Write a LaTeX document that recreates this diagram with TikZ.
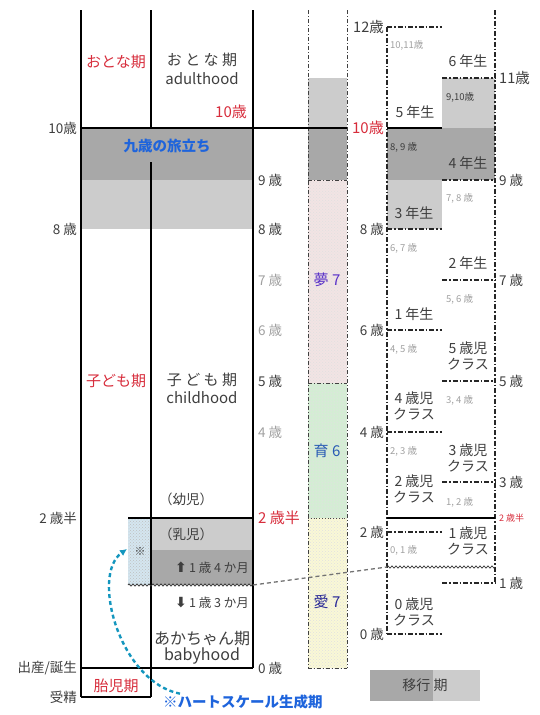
\documentclass[tikz,border=0pt]{standalone}
\usepackage{fontspec}
\setmainfont{Noto Sans CJK JP}
\newfontfamily\dejavu{DejaVu Sans}
\usetikzlibrary{arrows.meta,decorations.pathmorphing,patterns}
\definecolor{jred}{RGB}{215,45,60}
\definecolor{jblue}{RGB}{30,100,220}
\definecolor{jcyan}{RGB}{20,150,190}
\definecolor{dgray}{RGB}{168,168,168}
\definecolor{lgray}{RGB}{204,204,204}
\definecolor{txt}{RGB}{62,62,62}
\definecolor{ltxt}{RGB}{160,160,160}
\definecolor{pinkf}{RGB}{242,228,228}
\definecolor{greenf}{RGB}{212,238,212}
\definecolor{yellowf}{RGB}{250,248,214}
\definecolor{bluef}{RGB}{212,230,240}
\definecolor{yume}{RGB}{90,50,200}
\definecolor{iku}{RGB}{40,90,180}
\definecolor{aicol}{RGB}{40,40,150}
\tikzset{
  thk/.style={line width=2.6pt,black},
  ddash/.style={line width=1.1pt,black!85,dash pattern=on 5pt off 2pt on 1.5pt off 2pt},
  vdash/.style={line width=0.8pt,black!75,dash pattern=on 4pt off 2pt on 1pt off 2pt},
  wav/.style={line width=0.7pt,black!80,decorate,decoration={zigzag,segment length=4pt,amplitude=1.1pt}},
  t/.style={inner sep=0pt,text=txt,font=\fontsize{13.5}{15}\selectfont},
  tl/.style={t,text=ltxt},
  sm/.style={inner sep=0pt,text=txt,font=\fontsize{9.5}{10}\selectfont},
  sml/.style={sm,text=ltxt},
  big/.style={inner sep=0pt,text=txt,font=\fontsize{15}{17}\selectfont,align=center},
  redl/.style={inner sep=0pt,text=jred,font=\fontsize{15}{17}\selectfont},
  cls/.style={inner sep=0pt,text=txt,font=\fontsize{14}{16.5}\selectfont,align=center},
}
\begin{document}
\begin{tikzpicture}[x=1pt,y=-1pt]
\useasboundingbox (0,0) rectangle (539,715);
% ---------- fills ----------
\fill[dgray] (81,128) rectangle (253,180);
\fill[lgray] (81,180) rectangle (253,229);
\fill[lgray] (308,78) rectangle (347,128);
\fill[dgray] (308,128) rectangle (347,180);
\fill[pinkf] (308,180) rectangle (347,383);
\fill[greenf] (308,383) rectangle (347,518);
\fill[yellowf] (308,518) rectangle (347,668);
\fill[pattern=crosshatch dots,pattern color=black!12] (308,180) rectangle (347,668);
\fill[lgray] (442,78) rectangle (495,128);
\fill[dgray] (387,128) rectangle (495,180);
\fill[lgray] (387,180) rectangle (442,229);
\fill[lgray] (151,518) rectangle (253,550);
\fill[dgray] (151,550) rectangle (253,585);
\fill[bluef] (128,518) rectangle (151,585);
\fill[pattern=crosshatch dots,pattern color=black!25] (128,518) rectangle (151,585);
% ---------- middle column borders ----------
\draw[vdash] (308,10) -- (308,668);
\draw[vdash] (347,10) -- (347,668);
\draw[vdash] (308,180) -- (347,180);
\draw[vdash] (308,383) -- (347,383);
\draw[line width=0.8pt,black!70,dotted] (308,518) -- (347,518);
\draw[vdash] (308,668) -- (347,668);
% ---------- right column ----------
\draw[ddash] (387,27) -- (387,634);
\draw[ddash] (495,10) -- (495,583);
\foreach \yy in {27,229,330,432,532,634} \draw[ddash] (387,\yy) -- (442,\yy);
\foreach \yy in {78,180,280,381,482,583} \draw[ddash] (442,\yy) -- (495,\yy);
\draw[thk] (387,128) -- (442,128);
\draw[thk] (387,518) -- (495,518);
\coordinate (wR1) at (387,567);
\coordinate (wR2) at (495,567);
\draw[wav] (wR1) -- (wR2);
% ---------- main frame ----------
\draw[thk] (81,10) -- (81,697);
\draw[thk] (151,10) -- (151,128);
\draw[thk] (151,162) -- (151,697);
\draw[thk] (253,10) -- (253,668);
\draw[thk] (81,128) -- (347,128);
\draw[thk] (128,518) -- (253,518);
\draw[thk] (81,668) -- (253,668);
\draw[thk] (81,697) -- (151,697);
\coordinate (wL1) at (128,585);
\coordinate (wL2) at (253,585);
\draw[wav] (wL1) -- (wL2);
\draw[line width=1.3pt,black!55,dash pattern=on 4pt off 3pt] (wL2) -- (wR1);
% ---------- left labels ----------
\node[t,anchor=east] (l10) at (77,128) {10歳};
\node[t,anchor=east] (l8) at (77,229) {8 歳};
\node[t,anchor=east] (l25) at (77,518) {2 歳半};
\node[t,anchor=east] (lbirth) at (77,668) {出産/誕生};
\node[t,anchor=east] (lconc) at (77,697) {受精};
\node[redl] (otonaR) at (116,62) {おとな期};
\node[redl] (kodomoR) at (116,381) {子ども期};
\node[redl] (taiji) at (116,686) {胎児期};
\node[big] (otona) at (202,60) {お と な 期};
\node[big] (adult) at (202,79) {adulthood};
\node[redl] (r10) at (231,112) {10歳};
\node[inner sep=0pt,text=jblue,font=\bfseries\fontsize{14.5}{16}\selectfont] (kyusai) at (167,146) {九歳の旅立ち};
\node[big] (kodomo) at (202,380) {子 ど も 期};
\node[big] (child) at (202,398) {childhood};
\node[t] (youji) at (186,499) {（幼児）};
\node[t] (nyuji) at (186,534) {（乳児）};
\node[t,anchor=east,font=\fontsize{12.5}{14}\selectfont] (m14) at (249,568) {{\dejavu\bfseries\fontsize{14}{14}\selectfont ⬆}\,1 歳 4 か月};
\node[t,anchor=east,font=\fontsize{12.5}{14}\selectfont] (m13) at (249,603) {{\dejavu\bfseries\fontsize{14}{14}\selectfont ⬇}\,1 歳 3 か月};
\node[big,font=\fontsize{16}{18}\selectfont] (aka) at (202,639) {あかちゃん期};
\node[big,font=\fontsize{16}{18}\selectfont] (baby) at (202,656) {babyhood};
\node[inner sep=0pt,text=txt,font=\fontsize{11}{12}\selectfont] (kome) at (140,551) {※};
\node[inner sep=0pt,text=jblue,font=\bfseries\fontsize{14.5}{16}\selectfont,anchor=west] (hs) at (163,702) {※ハートスケール生成期};
\coordinate (hsend) at (127,549);
\draw[jcyan,line width=2.4pt,dash pattern=on 4pt off 3pt,-{Latex[length=7pt,width=7pt]}] ([xshift=17pt,yshift=1pt]hs.north west) .. controls (120,682) and (90,575) .. (hsend);
% ---------- middle axis ----------
\node[t,anchor=west] (a9) at (258,180) {9 歳};
\node[t,anchor=west] (a8) at (258,229) {8 歳};
\node[tl,anchor=west] (a7) at (258,280) {7 歳};
\node[tl,anchor=west] (a6) at (258,330) {6 歳};
\node[t,anchor=west] (a5) at (258,381) {5 歳};
\node[tl,anchor=west] (a4) at (258,432) {4 歳};
\node[redl,anchor=west] (a25) at (258,518) {2 歳半};
\node[t,anchor=west] (a0) at (258,668) {0 歳};
\node[inner sep=0pt,text=yume,font=\fontsize{15}{17}\selectfont] (yume) at (327,280) {夢 7};
\node[inner sep=0pt,text=iku,font=\fontsize{15}{17}\selectfont] (iku) at (327,451) {育 6};
\node[inner sep=0pt,text=aicol,font=\fontsize{15}{17}\selectfont] (ai) at (327,602) {愛 7};
% ---------- right axis ----------
\node[t,font=\fontsize{14.5}{16}\selectfont,anchor=east] (b12) at (384,27) {12歳};
\node[redl,anchor=east] (b10) at (384,128) {10歳};
\node[t,anchor=east] (b8) at (384,229) {8 歳};
\node[t,anchor=east] (b6) at (384,330) {6 歳};
\node[t,anchor=east] (b4) at (384,432) {4 歳};
\node[t,anchor=east] (b2) at (384,532) {2 歳};
\node[t,anchor=east] (b0) at (384,634) {0 歳};
\node[t,font=\fontsize{14.5}{16}\selectfont,anchor=west] (c11) at (499,78) {11歳};
\node[t,anchor=west] (c9) at (499,180) {9 歳};
\node[t,anchor=west] (c7) at (499,280) {7 歳};
\node[t,anchor=west] (c5) at (499,381) {5 歳};
\node[t,anchor=west] (c3) at (499,482) {3 歳};
\node[inner sep=0pt,text=jred,font=\fontsize{9}{10}\selectfont,anchor=west] (c25) at (499,518) {2 歳半};
\node[t,anchor=west] (c1) at (499,583) {1 歳};
% ---------- grades ----------
\node[sml,anchor=west] (g1011) at (390,45) {10,11歳};
\node[cls] (y6) at (468,61) {6 年生};
\node[sm,anchor=west] (g910) at (446,97) {9,10歳};
\node[cls] (y5) at (415,112) {5 年生};
\node[sm,anchor=west] (g89) at (390,147) {8, 9 歳};
\node[cls] (y4) at (468,163) {4 年生};
\node[sml,anchor=west] (g78) at (446,198) {7, 8 歳};
\node[cls] (y3) at (414,213) {3 年生};
\node[sml,anchor=west] (g67) at (390,248) {6, 7 歳};
\node[cls] (y2) at (468,263) {2 年生};
\node[sml,anchor=west] (g56) at (446,299) {5, 6 歳};
\node[cls] (y1) at (414,314) {1 年生};
\node[sml,anchor=west] (g45) at (390,349) {4, 5 歳};
\node[cls] (k5) at (468,356) {5 歳児\\クラス};
\node[sml,anchor=west] (g34) at (446,400) {3, 4 歳};
\node[cls] (k4) at (414,406) {4 歳児\\クラス};
\node[sml,anchor=west] (g23) at (390,451) {2, 3 歳};
\node[cls] (k3) at (468,458) {3 歳児\\クラス};
\node[cls] (k2) at (414,489) {2 歳児\\クラス};
\node[sml,anchor=west] (g12) at (446,502) {1, 2 歳};
\node[cls] (k1) at (468,541) {1 歳児\\クラス};
\node[sml,anchor=west] (g01) at (390,550) {0, 1 歳};
\node[cls] (k0) at (414,612) {0 歳児\\クラス};
% ---------- legend ----------
\fill[dgray] (370,670) rectangle (433,701);
\fill[lgray] (433,670) rectangle (480,701);
\node[t,font=\fontsize{14}{16}\selectfont] (leg) at (425,685) {移行\ 期};
\end{tikzpicture}
\end{document}
